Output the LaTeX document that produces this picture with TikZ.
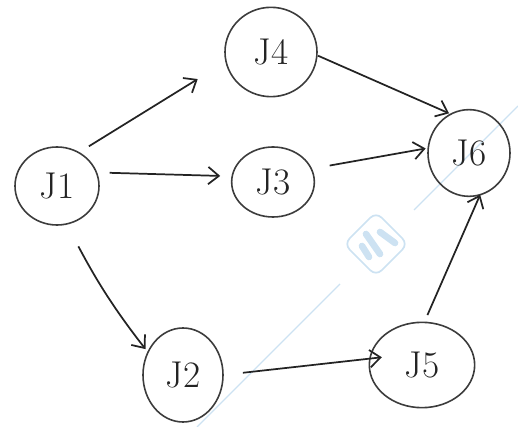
\documentclass[tikz,border=0pt]{standalone}
\usetikzlibrary{shapes.geometric,arrows.meta}
\definecolor{ink}{RGB}{35,35,35}
\definecolor{ring}{RGB}{60,60,60}
\definecolor{wm}{RGB}{205,226,242}
\begin{document}
\begin{tikzpicture}[x=0.75pt,y=-0.75pt,
  job/.style={ellipse,draw=ring,line width=1.2pt,inner sep=0pt,outer sep=0pt,
    font=\fontsize{28}{32}\selectfont,text=ink},
  edge/.style={draw=ink,line width=1.3pt,-{Straight Barb[length=8pt,width=13pt,line width=1.3pt]}},
  wmline/.style={draw=wm,line width=1pt},
  logostroke/.style={draw=wm,line width=5pt,line cap=round}]
\useasboundingbox (0,0) rectangle (518,427);
% watermark
\path[wmline] (197,427) -- (340,284);
\path[wmline] (414,210) -- (518,106);
\draw[wm,line width=1.3pt,rounded corners=6pt] (376,212) -- (408,244) -- (376,276) -- (344,244) -- cycle;
\path[logostroke] (362,246) -- (369,257);
\path[logostroke] (366,234) -- (380,254);
\path[logostroke] (380,232) -- (395,243);
% nodes
\node[job,minimum width=63pt,minimum height=58.5pt] (J1) at (57,186) {J1};
\node[job,minimum width=69pt,minimum height=67pt] (J4) at (271,52) {J4};
\node[job,minimum width=62pt,minimum height=52.5pt] (J3) at (273,182) {J3};
\node[job,minimum width=61.5pt,minimum height=65pt] (J6) at (469,153) {J6};
\node[job,minimum width=60pt,minimum height=70.5pt] (J2) at (183,375) {J2};
\node[job,minimum width=79pt,minimum height=64pt] (J5) at (422,365) {J5};
% edges
\draw[edge,shorten <=9pt,shorten >=25pt] (J1.57) -- (J4.192);
\draw[edge,shorten <=10pt,shorten >=9pt] (J1.19) -- (J3.172);
\draw[edge,shorten <=19pt,shorten >=3pt] (J1.284) to[out=-62,in=128] (J2.147);
\draw[edge,shorten <=1pt,shorten >=1.5pt] (J4.356) -- (J6.115);
\draw[edge,shorten <=14pt,shorten >=2pt] (J3.19) -- (J6.173);
\draw[edge,shorten <=15pt,shorten >=-9pt] (J2.0) -- (J5.173);
\draw[edge,shorten <=6pt,shorten >=0pt] (J5.87) -- (J6.-75);
\end{tikzpicture}
\end{document}
